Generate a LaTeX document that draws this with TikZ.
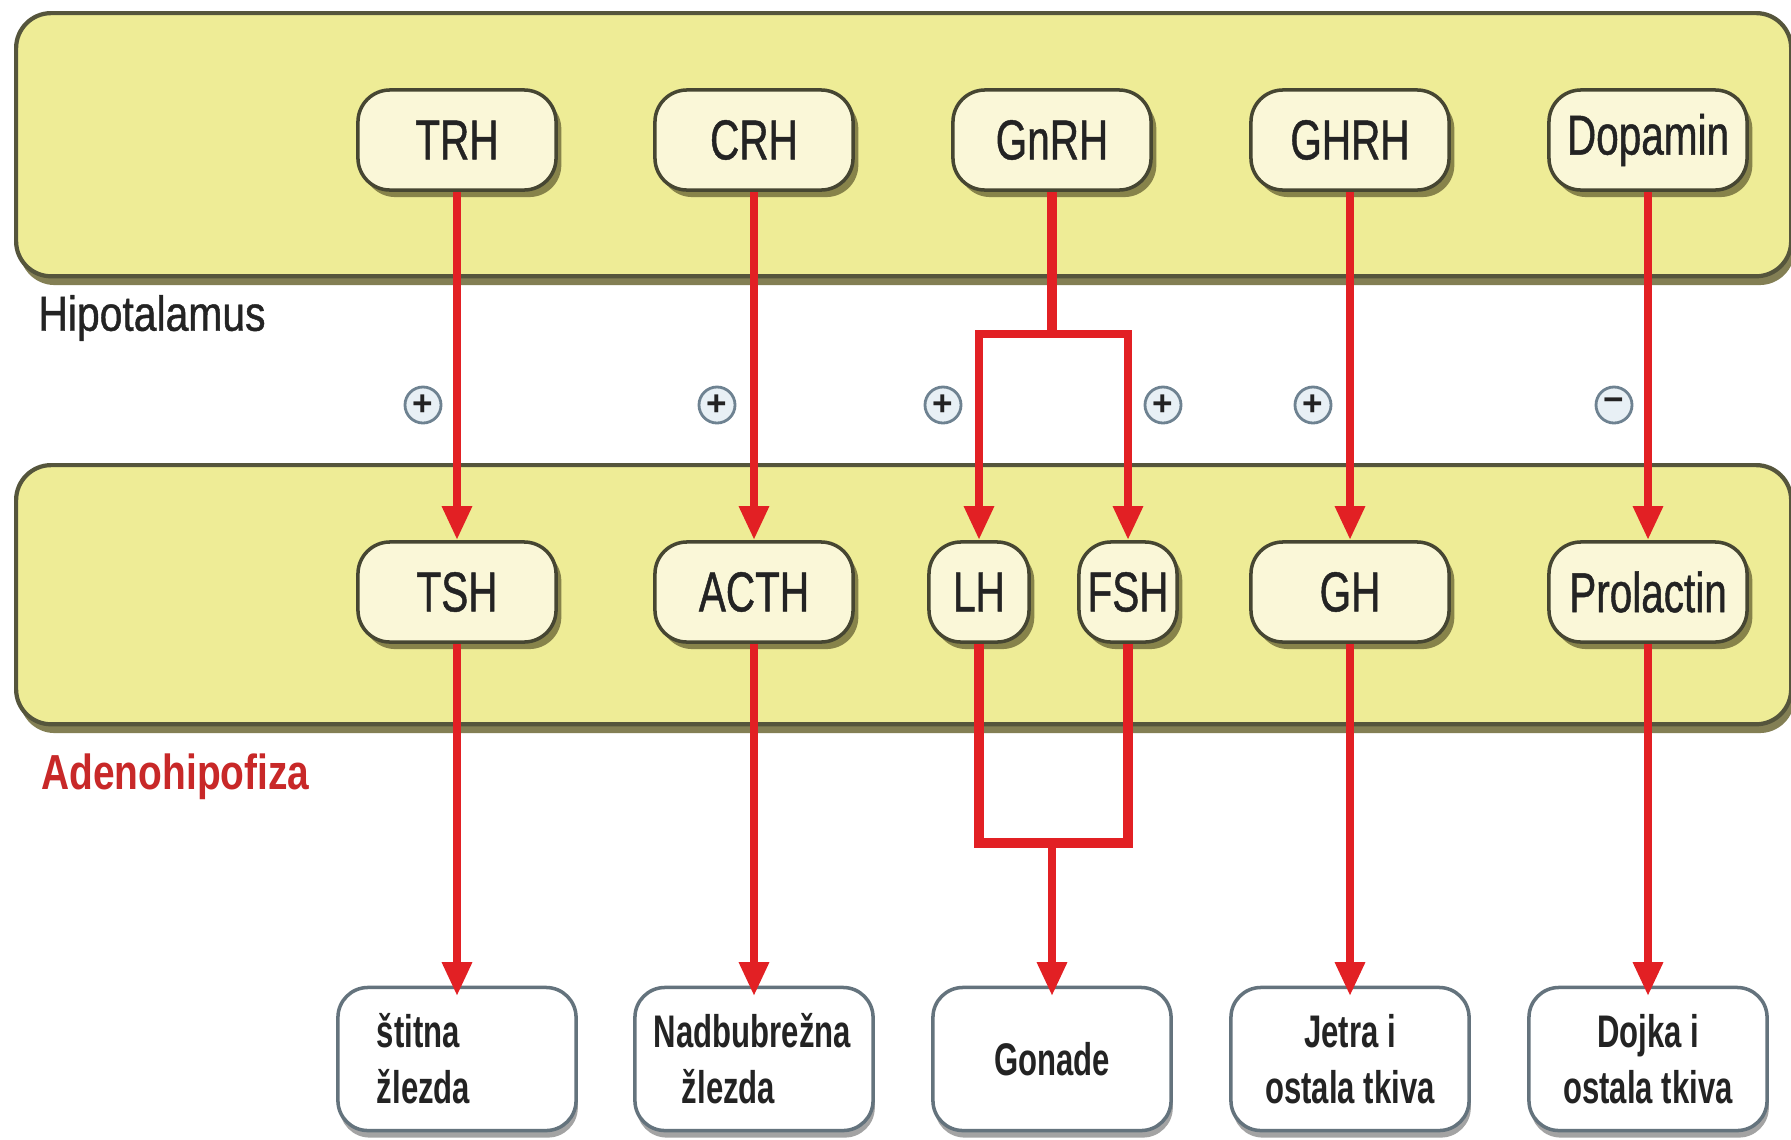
\documentclass[tikz,border=0pt]{standalone}
\usepackage{fontspec}
\setmainfont{Liberation Sans}
\newfontfamily\hnf{Liberation Sans}[FakeStretch=0.72,FakeBold=0.8]
\newfontfamily\lbf{Liberation Sans}[FakeStretch=0.83,FakeBold=0.9]
\newfontfamily\lbfb{Liberation Sans Bold}[FakeStretch=0.79]
\newfontfamily\tgf{Liberation Sans Bold}[FakeStretch=0.68]
\usetikzlibrary{arrows.meta,shadows}
\definecolor{bandfill}{RGB}{238,236,150}
\definecolor{bandline}{RGB}{85,85,60}
\definecolor{shadowc}{RGB}{110,105,55}
\definecolor{nodefill}{RGB}{250,247,216}
\definecolor{nodeline}{RGB}{70,70,50}
\definecolor{sigred}{RGB}{226,32,36}
\definecolor{textc}{RGB}{35,35,35}
\definecolor{adenoc}{RGB}{200,40,40}
\definecolor{boxline}{RGB}{100,115,125}
\definecolor{circfill}{RGB}{232,240,245}
\definecolor{circline}{RGB}{110,130,145}
\tikzset{
  band/.style={draw=bandline, line width=1.2pt, fill=bandfill, rounded corners=0.35cm,
    drop shadow={shadow xshift=1pt, shadow yshift=-2.5pt, fill=shadowc, opacity=0.85}},
  horm/.style={draw=nodeline, line width=1pt, fill=nodefill, rounded corners=0.32cm,
    minimum height=1cm, minimum width=1.98cm, inner sep=2pt, text=textc,
    font=\hnf\fontsize{16}{19}\selectfont,
    drop shadow={shadow xshift=1.5pt, shadow yshift=-2pt, fill=shadowc, opacity=0.8}},
  target/.style={draw=boxline, line width=1pt, fill=white, rounded corners=0.3cm,
    minimum width=2.38cm, minimum height=1.43cm, text=textc,
    font=\tgf\fontsize{13}{16}\selectfont,
    drop shadow={shadow xshift=0.5pt, shadow yshift=-2pt, fill=black!45, opacity=0.8}},
  sig/.style={draw=sigred, line width=2.5pt, line join=miter,
    -{Triangle[length=0.34cm, width=0.28cm]}},
  bar/.style={draw=sigred, line width=2.8pt, line join=miter},
  sign/.style={circle, draw=circline, fill=circfill, line width=0.8pt,
    minimum size=0.36cm, inner sep=0pt, text=textc, font=\bfseries\fontsize{10}{10}\selectfont}
}
\begin{document}
\begin{tikzpicture}[x=0.01cm,y=-0.01cm]
\useasboundingbox[fill=white] (0,0) rectangle (1791,1139);

% bands
\node[band, anchor=north west, minimum width=17.74cm, minimum height=2.63cm] (hypband) at (14,11) {};
\node[band, anchor=north west, minimum width=17.74cm, minimum height=2.59cm] (adband) at (14,463) {};

% labels
\node[anchor=west, text=textc, font=\lbf\fontsize{14}{16}\selectfont] (hlab) at (26,318) {Hipotalamus};
\node[anchor=west, text=adenoc, font=\lbfb\fontsize{14}{16}\selectfont] (alab) at (29,777) {Adenohipofiza};

% hypothalamic hormones
\node[horm] (trh) at (457,140) {TRH};
\node[horm] (crh) at (754,140) {CRH};
\node[horm] (gnrh) at (1052,140) {GnRH};
\node[horm] (ghrh) at (1350,140) {GHRH};
\node[horm] (dop) at (1648,140) {Dopamin};

% pituitary hormones
\node[horm] (tsh) at (457,592) {TSH};
\node[horm] (acth) at (754,592) {ACTH};
\node[horm, minimum width=1cm] (lh) at (979,592) {LH};
\node[horm, minimum width=0.98cm] (fsh) at (1128,592) {FSH};
\node[horm] (gh) at (1350,592) {GH};
\node[horm] (prl) at (1648,592) {Prolactin};

% targets
\node[target, align=left, text width=1.6cm] (thy) at (457,1059) {štitna\\žlezda};
\node[target, align=left, text width=2.0cm] (adr) at (754,1059) {Nadbubrežna\\\hspace*{0.28cm}žlezda};
\node[target, align=center] (gon) at (1052,1059) {Gonade};
\node[target, align=center] (liv) at (1350,1059) {Jetra i\\ostala tkiva};
\node[target, align=center] (brs) at (1648,1059) {Dojka i\\ostala tkiva};

% signs
\node[sign] (s1) at (423,405) {+};
\node[sign] (s2) at (717,405) {+};
\node[sign] (s3) at (943,405) {+};
\node[sign] (s4) at (1163,405) {+};
\node[sign] (s5) at (1313,405) {+};
\node[sign] (s6) at (1614,405) {−};

% hypothalamus -> pituitary
\draw[sig] (trh.south) -- (tsh.north);
\draw[sig] (crh.south) -- (acth.north);
\draw[sig] (ghrh.south) -- (gh.north);
\draw[sig] (dop.south) -- (prl.north);
\coordinate (gj) at (1052,334);
\draw[bar] (gnrh.south) -- (gj);
\draw[sig] (gj) -| (lh.north);
\draw[sig] (gj) -| (fsh.north);

% pituitary -> targets
\draw[sig] (tsh.south) -- ([yshift=-3pt]thy.north);
\draw[sig] (acth.south) -- ([yshift=-3pt]adr.north);
\draw[sig] (gh.south) -- ([yshift=-3pt]liv.north);
\draw[sig] (prl.south) -- ([yshift=-3pt]brs.north);
\coordinate (gb) at (1052,843);
\draw[bar] (lh.south) |- (gb) -| (fsh.south);
\draw[sig] (gb) -- ([yshift=-3pt]gon.north);
\end{tikzpicture}
\end{document}
